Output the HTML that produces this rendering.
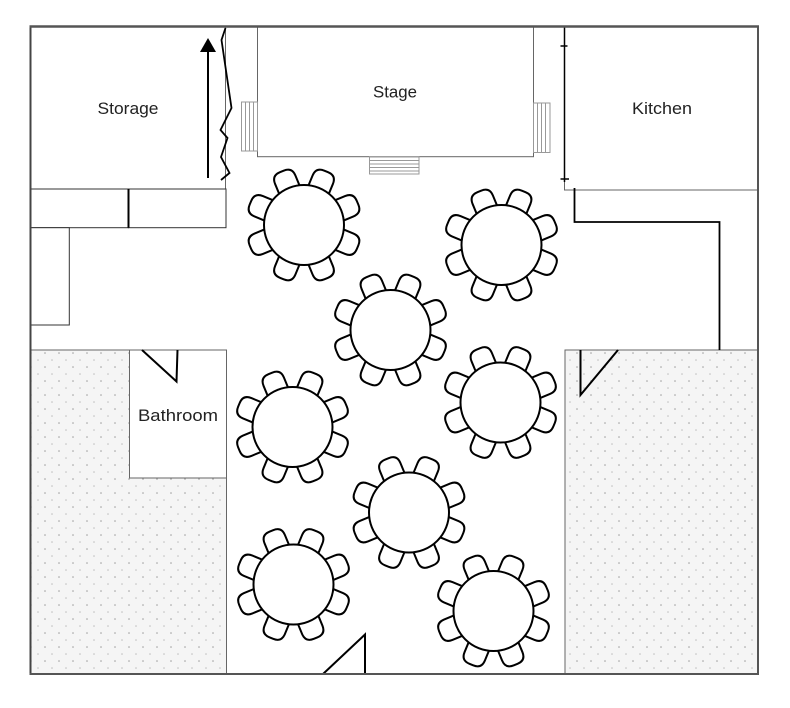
<!DOCTYPE html>
<html>
<head>
<meta charset="utf-8">
<style>
  html,body{margin:0;padding:0;background:#fff;}
  svg{display:block;}
  text{font-family:"Liberation Sans","DejaVu Sans",sans-serif;fill:#222;}
</style>
</head>
<body>
<svg width="790" height="708" viewBox="0 0 790 708" xmlns="http://www.w3.org/2000/svg">
  <defs>
    <pattern id="dots" x="0" y="0" width="14" height="14" patternUnits="userSpaceOnUse">
      <rect width="14" height="14" fill="#f5f5f5"/>
      <circle cx="3" cy="3" r="0.75" fill="#999"/>
      <circle cx="10" cy="10" r="0.75" fill="#bbb"/>
    </pattern>
    <path id="ch" d="M -11,-35 L -11,-49 Q -11,-58 -2,-58 L 2,-58 Q 11,-58 11,-49 L 11,-35 Z" fill="#fff" stroke="#000" stroke-width="2" stroke-linejoin="round"/>
    <g id="tbl">
      <use href="#ch" transform="rotate(22.5)"/>
      <use href="#ch" transform="rotate(67.5)"/>
      <use href="#ch" transform="rotate(112.5)"/>
      <use href="#ch" transform="rotate(157.5)"/>
      <use href="#ch" transform="rotate(202.5)"/>
      <use href="#ch" transform="rotate(247.5)"/>
      <use href="#ch" transform="rotate(292.5)"/>
      <use href="#ch" transform="rotate(337.5)"/>
      <circle cx="0" cy="0" r="40" fill="#fff" stroke="#000" stroke-width="2"/>
    </g>
  </defs>

  <!-- dotted areas -->
  <rect x="31" y="350" width="195.5" height="324" fill="url(#dots)" stroke="#666" stroke-width="1"/>
  <rect x="565" y="350" width="193" height="324" fill="url(#dots)" stroke="#666" stroke-width="1"/>

  <!-- bathroom -->
  <rect x="129.5" y="350" width="97" height="128" fill="#fff" stroke="#666" stroke-width="1"/>
  <text x="178" y="421" font-size="17" text-anchor="middle" textLength="80" lengthAdjust="spacingAndGlyphs">Bathroom</text>
  <polyline points="142,350 176.5,381.5 177.5,350" fill="none" stroke="#000" stroke-width="2"/>

  <!-- storage -->
  <rect x="31" y="26" width="194.5" height="163" fill="#fff" stroke="#666" stroke-width="1"/>
  <text x="128" y="114" font-size="17" text-anchor="middle" textLength="61" lengthAdjust="spacingAndGlyphs">Storage</text>
  <!-- arrow -->
  <line x1="208" y1="178" x2="208" y2="50" stroke="#000" stroke-width="2"/>
  <polygon points="208,38 200,52 216,52" fill="#000"/>
  <!-- zigzag -->
  <polyline points="225.5,28 221.5,40 231.5,108 220.5,130 227.5,138 221,157 229.5,173 221,180" fill="none" stroke="#000" stroke-width="1.8"/>

  <!-- counters -->
  <rect x="31" y="189" width="97.5" height="38.7" fill="#fff" stroke="#333" stroke-width="1"/>
  <rect x="128.5" y="189" width="97.5" height="38.7" fill="#fff" stroke="#333" stroke-width="1"/>
  <line x1="128.5" y1="189" x2="128.5" y2="227.7" stroke="#000" stroke-width="2"/>
  <rect x="31" y="227.7" width="38.3" height="97.3" fill="#fff" stroke="#333" stroke-width="1"/>

  <!-- stage -->
  <rect x="257.5" y="26" width="276" height="130.7" fill="#fff" stroke="#666" stroke-width="1"/>
  <text x="395" y="97.5" font-size="17" text-anchor="middle" textLength="44" lengthAdjust="spacingAndGlyphs">Stage</text>
  <g stroke="#999" stroke-width="1" fill="none">
    <rect x="241.5" y="102" width="16" height="49" fill="#fff"/>
    <line x1="245.5" y1="102" x2="245.5" y2="151"/>
    <line x1="249.5" y1="102" x2="249.5" y2="151"/>
    <line x1="253.5" y1="102" x2="253.5" y2="151"/>
    <rect x="533.5" y="103" width="16.5" height="49.5" fill="#fff"/>
    <line x1="537.5" y1="103" x2="537.5" y2="152.5"/>
    <line x1="541.5" y1="103" x2="541.5" y2="152.5"/>
    <line x1="545.5" y1="103" x2="545.5" y2="152.5"/>
    <rect x="369.5" y="157" width="49.5" height="17" fill="#fff"/>
    <line x1="369.5" y1="160.5" x2="419" y2="160.5"/>
    <line x1="369.5" y1="164" x2="419" y2="164"/>
    <line x1="369.5" y1="167.5" x2="419" y2="167.5"/>
    <line x1="369.5" y1="171" x2="419" y2="171"/>
  </g>

  <!-- kitchen -->
  <rect x="564.5" y="26" width="193.5" height="164" fill="#fff" stroke="#666" stroke-width="1"/>
  <text x="662" y="114" font-size="17" text-anchor="middle" textLength="60" lengthAdjust="spacingAndGlyphs">Kitchen</text>
  <line x1="564.5" y1="26" x2="564.5" y2="182" stroke="#000" stroke-width="1.5"/>
  <line x1="560.5" y1="46" x2="567.5" y2="46" stroke="#000" stroke-width="1.5"/>
  <line x1="560.5" y1="179" x2="569" y2="179" stroke="#000" stroke-width="1.5"/>

  <!-- L line -->
  <polyline points="574.5,188 574.5,222 719.5,222 719.5,350" fill="none" stroke="#000" stroke-width="1.8"/>

  <!-- right door -->
  <polyline points="618,350 580.5,395 580.5,350" fill="none" stroke="#000" stroke-width="2"/>

  <!-- bottom door -->
  <polyline points="323,674 365,634.5 365,674" fill="none" stroke="#000" stroke-width="2"/>

  <!-- tables -->
  <use href="#tbl" transform="translate(304,225)"/>
  <use href="#tbl" transform="translate(501.5,245)"/>
  <use href="#tbl" transform="translate(390.5,330)"/>
  <use href="#tbl" transform="translate(500.5,402.5)"/>
  <use href="#tbl" transform="translate(292.5,427)"/>
  <use href="#tbl" transform="translate(409,512.5)"/>
  <use href="#tbl" transform="translate(293.5,584.5)"/>
  <use href="#tbl" transform="translate(493.5,611)"/>

  <!-- outer border -->
  <line x1="30.5" y1="26" x2="30.5" y2="675" stroke="#444" stroke-width="2"/>
  <line x1="758" y1="26" x2="758" y2="675" stroke="#555" stroke-width="2"/>
  <line x1="29.5" y1="26.5" x2="759" y2="26.5" stroke="#555" stroke-width="2.5"/>
  <line x1="29.5" y1="674" x2="759" y2="674" stroke="#555" stroke-width="2"/>
</svg>
</body>
</html>
